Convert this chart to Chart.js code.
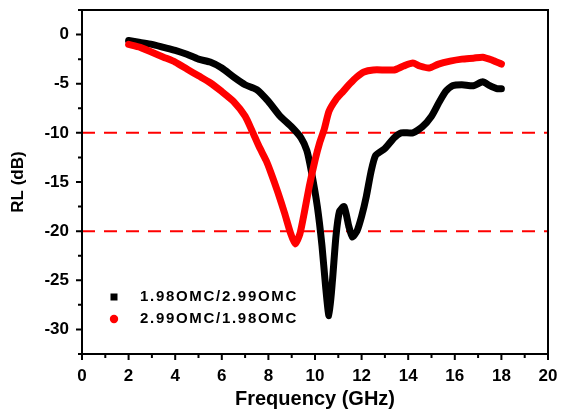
<!DOCTYPE html>
<html>
<head>
<meta charset="utf-8">
<script src="https://cdn.jsdelivr.net/npm/chart.js@4.4.0/dist/chart.umd.min.js"></script>
<style>
    html, body { margin: 0; padding: 0; background: #fff; }
</style>
</head>
<body>
<canvas id="rlChart" width="561" height="412"></canvas>
<script>
// --- Data ---
const freqA = [2.0, 2.5, 3.0, 3.5, 4.0, 4.5, 5.0, 5.5, 6.0, 6.5, 7.0, 7.5, 8.0, 8.5, 9.0, 9.4, 9.65, 9.85,
    10.1, 10.3, 10.45, 10.6, 10.75, 10.9, 11.05, 11.25, 11.45, 11.6, 11.8, 12.0, 12.2, 12.4, 12.6, 13.0,
    13.4, 13.7, 14.2, 14.6, 15.0, 15.3, 15.6, 15.9, 16.3, 16.8, 17.2, 17.5, 17.8, 18.0];
const rlA = [-0.6, -0.8, -1.0, -1.3, -1.6, -2.0, -2.5, -2.8, -3.4, -4.3, -5.1, -5.6, -6.8, -8.3, -9.4, -10.5, -11.8, -14.0,
    -17.5, -21.5, -25.5, -28.6, -25.0, -20.5, -18.0, -17.5, -19.5, -20.6, -20.0, -18.5, -16.5, -14.0, -12.3, -11.6,
    -10.5, -10.0, -10.0, -9.4, -8.3, -7.0, -5.8, -5.2, -5.1, -5.2, -4.8, -5.2, -5.5, -5.5];

const freqB = [2.0, 2.5, 3.0, 3.5, 4.0, 4.5, 5.0, 5.5, 6.0, 6.5, 7.0, 7.3, 7.6, 7.9, 8.1, 8.4, 8.7, 8.95,
    9.15, 9.35, 9.55, 9.75, 10.0, 10.2, 10.4, 10.6, 10.9, 11.2, 11.5, 11.8, 12.1, 12.5, 13.0, 13.4,
    13.8, 14.2, 14.5, 14.9, 15.3, 15.8, 16.3, 16.8, 17.2, 17.6, 18.0];
const rlB = [-1.0, -1.3, -1.8, -2.3, -2.8, -3.5, -4.2, -4.9, -5.8, -6.8, -8.3, -9.8, -11.4, -12.8, -14.0, -16.0, -18.2, -20.2,
    -21.3, -20.3, -18.0, -15.5, -12.8, -11.0, -9.6, -7.8, -6.6, -5.8, -5.0, -4.3, -3.8, -3.6, -3.6, -3.6,
    -3.2, -2.9, -3.2, -3.4, -3.0, -2.7, -2.5, -2.4, -2.3, -2.6, -3.0];

const seriesLabels = ['1.98OMC/2.99OMC', '2.99OMC/1.98OMC'];
const refLevels = [-10, -20];
const xTicks = [0, 2, 4, 6, 8, 10, 12, 14, 16, 18, 20];
const yTicks = [0, -5, -10, -15, -20, -25, -30];

const FONT = "'Liberation Sans', Arial, sans-serif";
Chart.defaults.font.family = FONT;
Chart.defaults.color = '#000';

const toPoints = (xs, ys) => xs.map((x, i) => ({ x: x, y: ys[i] }));

// frame, tick marks (major + minor) and the in-plot legend
const framePlugin = {
    id: 'framePlugin',
    afterDraw(chart) {
        const { ctx, chartArea: a, scales: { x, y } } = chart;
        ctx.save();
        ctx.strokeStyle = '#000';
        ctx.lineWidth = 2;
        ctx.strokeRect(a.left, a.top, a.right - a.left, a.bottom - a.top);

        ctx.beginPath();
        xTicks.forEach((v, i) => {
            const px = x.getPixelForValue(v);
            ctx.moveTo(px, a.bottom); ctx.lineTo(px, a.bottom + 6);
            if (i < xTicks.length - 1) {
                const m = x.getPixelForValue((v + xTicks[i + 1]) / 2);
                ctx.moveTo(m, a.bottom); ctx.lineTo(m, a.bottom + 4);
            }
        });
        yTicks.forEach((v, i) => {
            const py = y.getPixelForValue(v);
            ctx.moveTo(a.left, py); ctx.lineTo(a.left - 6, py);
            const next = i < yTicks.length - 1 ? yTicks[i + 1] : v - 5;
            const m = y.getPixelForValue((v + next) / 2);
            ctx.moveTo(a.left, m); ctx.lineTo(a.left - 4, m);
        });
        const topMinor = y.getPixelForValue(yTicks[0] + 2.5);
        ctx.moveTo(a.left, topMinor); ctx.lineTo(a.left - 4, topMinor);
        ctx.stroke();

        // legend
        const lx = a.left + 32;
        const ly = a.bottom - 57;
        ctx.font = `bold 15px ${FONT}`;
        ctx.letterSpacing = '1.7px';
        ctx.textBaseline = 'middle';
        ctx.textAlign = 'left';
        const ds = chart.data.datasets.filter(d => d.isSeries).sort((p, q) => p.legendIdx - q.legendIdx);
        ds.forEach((d, i) => {
            const yy = ly + i * 22;
            ctx.fillStyle = d.borderColor;
            if (d.marker === 'square') {
                ctx.fillRect(lx - 3.5, yy - 3.5, 7, 7);
            } else {
                ctx.beginPath(); ctx.arc(lx, yy, 4.2, 0, Math.PI * 2); ctx.fill();
            }
            ctx.fillStyle = '#000';
            ctx.fillText(d.label, lx + 26, yy);
        });
        ctx.restore();
    }
};

const refDatasets = refLevels.map(v => ({
    label: 'ref ' + v,
    data: [{ x: 0, y: v }, { x: 20, y: v }],
    borderColor: '#ff0000',
    borderWidth: 2,
    borderDash: [13, 9],
    pointRadius: 0,
    order: 3
}));

new Chart(document.getElementById('rlChart'), {
    type: 'line',
    data: {
        datasets: [
            {
                label: seriesLabels[0],
                data: toPoints(freqA, rlA),
                borderColor: '#000000',
                borderWidth: 7,
                pointRadius: 0,
                tension: 0.2,
                borderJoinStyle: 'round',
                borderCapStyle: 'round',
                isSeries: true, legendIdx: 0, marker: 'square',
                order: 2
            },
            {
                label: seriesLabels[1],
                data: toPoints(freqB, rlB),
                borderColor: '#ff0000',
                borderWidth: 7,
                pointRadius: 0,
                tension: 0.2,
                borderJoinStyle: 'round',
                borderCapStyle: 'round',
                isSeries: true, legendIdx: 1, marker: 'circle',
                order: 1
            },
            ...refDatasets
        ]
    },
    options: {
        responsive: false,
        animation: false,
        devicePixelRatio: 1,
        layout: { padding: { top: 10, right: 13, left: 0, bottom: 0 } },
        plugins: { legend: { display: false }, tooltip: { enabled: false } },
        scales: {
            x: {
                type: 'linear',
                min: 0,
                max: 20,
                afterBuildTicks: s => { s.ticks = xTicks.map(v => ({ value: v })); },
                afterFit: s => { s.height = 58; s.paddingLeft = 0; s.paddingRight = 0; },
                grid: { display: false, drawTicks: false },
                border: { display: false },
                ticks: { font: { size: 17, weight: 'bold' }, color: '#000', padding: 12, maxRotation: 0, autoSkip: false },
                title: {
                    display: true,
                    text: 'Frequency (GHz)',
                    color: '#000',
                    font: { size: 20, weight: 'bold' },
                    padding: { top: 0, bottom: 1 }
                }
            },
            y: {
                type: 'linear',
                min: -32.5,
                max: 2.5,
                afterBuildTicks: s => { s.ticks = yTicks.map(v => ({ value: v })); },
                afterFit: s => { s.width = 82; s.paddingTop = 0; s.paddingBottom = 0; },
                grid: { display: false, drawTicks: false },
                border: { display: false },
                ticks: { font: { size: 17, weight: 'bold' }, color: '#000', padding: 13, autoSkip: false },
                title: {
                    display: true,
                    text: 'RL (dB)',
                    color: '#000',
                    font: { size: 17, weight: 'bold' },
                    padding: { top: 8, bottom: 0 }
                }
            }
        }
    },
    plugins: [framePlugin]
});
</script>
</body>
</html>
